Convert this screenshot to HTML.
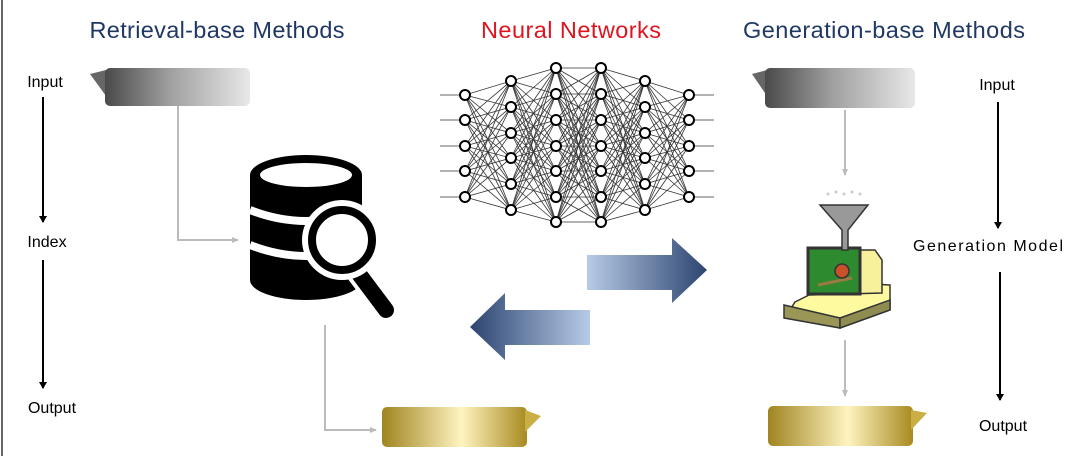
<!DOCTYPE html>
<html><head><meta charset="utf-8"><style>
body{margin:0;background:#fff;width:1080px;height:456px;overflow:hidden;font-family:"Liberation Sans",sans-serif;}
</style></head><body>
<svg id="s" width="1080" height="456" viewBox="0 0 1080 456" xmlns="http://www.w3.org/2000/svg">
<defs>
<linearGradient id="gray" x1="0" x2="1"><stop offset="0" stop-color="#4a4a4a"/><stop offset="0.45" stop-color="#a0a0a0"/><stop offset="1" stop-color="#e8e8e8"/></linearGradient>
<linearGradient id="gold" x1="0" x2="1"><stop offset="0" stop-color="#a08420"/><stop offset="0.55" stop-color="#fff4c0"/><stop offset="1" stop-color="#a88a20"/></linearGradient>
<linearGradient id="ar" x1="0" x2="1"><stop offset="0" stop-color="#b7cbe6"/><stop offset="1" stop-color="#2c4470"/></linearGradient>
<linearGradient id="al" x1="1" x2="0"><stop offset="0" stop-color="#b7cbe6"/><stop offset="1" stop-color="#2c4470"/></linearGradient>
<marker id="ah" markerWidth="8" markerHeight="8" refX="6" refY="4" orient="auto" markerUnits="userSpaceOnUse"><path d="M0,0 L7,4 L0,8 z" fill="#000"/></marker>
<marker id="ag" markerWidth="8" markerHeight="8" refX="6" refY="4" orient="auto" markerUnits="userSpaceOnUse"><path d="M0,1 L7,4 L0,7 z" fill="#bbb"/></marker>
</defs>
<line x1="2" y1="0" x2="2" y2="456" stroke="#666" stroke-width="2"/>
<g font-size="23.5" text-anchor="middle">
<text x="217" y="38" fill="#1f3864" textLength="255">Retrieval-base Methods</text>
<text x="571" y="38" fill="#e0141e" textLength="180">Neural Networks</text>
<text x="884" y="38" fill="#1f3864" textLength="282">Generation-base Methods</text>
</g>
<g font-size="16" fill="#000">
<text x="45" y="87" text-anchor="middle">Input</text>
<text x="47" y="247" text-anchor="middle">Index</text>
<text x="52" y="413" text-anchor="middle">Output</text>
<text x="997" y="90" text-anchor="middle">Input</text>
<text x="988" y="251" text-anchor="middle" textLength="150">Generation Model</text>
<text x="1003" y="431" text-anchor="middle">Output</text>
</g>
<g stroke="#000" stroke-width="2">
<line x1="43" y1="97" x2="43" y2="222" marker-end="url(#ah)"/>
<line x1="43" y1="260" x2="43" y2="388" marker-end="url(#ah)"/>
<line x1="998" y1="102" x2="998" y2="228" marker-end="url(#ah)"/>
<line x1="1000" y1="272" x2="1000" y2="400" marker-end="url(#ah)"/>
</g>
<path d="M90,74 L106,70 L106,96 z" fill="#666"/>
<rect x="105" y="68" width="145" height="38" rx="5" fill="url(#gray)"/>
<path d="M752,74 L767,70 L767,96 z" fill="#666"/>
<rect x="765" y="68" width="150" height="40" rx="5" fill="url(#gray)"/>
<rect x="382" y="407" width="145" height="40" rx="5" fill="url(#gold)"/>
<path d="M525,410 L541,416 L525,432 z" fill="#c9ad45"/>
<rect x="768" y="406" width="145" height="40" rx="5" fill="url(#gold)"/>
<path d="M911,410 L927,413 L911,430 z" fill="#c9ad45"/>
<g stroke="#bbb" stroke-width="2" fill="none">
<polyline points="178,106 178,240 238,240" marker-end="url(#ag)"/>
<polyline points="325,325 325,430 376,430" marker-end="url(#ag)"/>
<line x1="845" y1="110" x2="845" y2="175" marker-end="url(#ag)"/>
<line x1="845" y1="340" x2="845" y2="396" marker-end="url(#ag)"/>
</g>
<path d="M587,255 L672,255 L672,238 L707,270 L672,303 L672,290 L587,290 z" fill="url(#ar)"/>
<path d="M590,310 L505,310 L505,293 L470,327 L505,360 L505,345 L590,345 z" fill="url(#al)"/>
<g>
<path d="M250,175 A56,20 0 0 1 362,175 L362,280 A56,20 0 0 1 250,280 z" fill="#000"/>
<ellipse cx="306" cy="175" rx="46" ry="12" fill="#fff"/>
<path d="M250,210 Q306,232 362,210" stroke="#fff" stroke-width="8" fill="none"/>
<path d="M250,245 Q306,267 362,245" stroke="#fff" stroke-width="8" fill="none"/>
<line x1="350" y1="262" x2="388" y2="312" stroke="#fff" stroke-width="24" stroke-linecap="round"/>
<line x1="350" y1="262" x2="386" y2="310" stroke="#000" stroke-width="16" stroke-linecap="round"/>
<circle cx="342" cy="240" r="40" fill="#fff"/>
<circle cx="342" cy="240" r="30" fill="#fff" stroke="#000" stroke-width="8"/>
</g>
<g stroke="#333" stroke-width="1.5">
<path d="M795,302 L835,282 L890,285 L890,310 L840,328 L785,318 z" fill="#fdfaa0"/>
<path d="M784,305 L840,318 L840,328 L784,318 z" fill="#9a9658"/>
<path d="M840,318 L890,300 L890,310 L840,328 z" fill="#8e8c50"/>
<path d="M810,250 L875,250 L882,260 L882,293 L810,295 z" fill="#f6f19a"/>
<rect x="808" y="248" width="52" height="46" fill="#2e8a2e" stroke="#333" stroke-width="3"/>
<path d="M818,285 L852,278" stroke="#9a7a40" stroke-width="3"/>
<circle cx="842" cy="271" r="7" fill="#c8502a"/>
<path d="M820,205 L868,205 L848,230 L848,250 L842,250 L842,230 z" fill="#999"/>
</g>
<g fill="#ccc"><circle cx="828" cy="194" r="1.5"/><circle cx="836" cy="192" r="1.5"/><circle cx="844" cy="194" r="1.5"/><circle cx="852" cy="192" r="1.5"/><circle cx="860" cy="194" r="1.5"/></g>
<g id="nn"></g>
</svg>
<script>
var L=[[465,[95,120,146,171,197]],[511,[81,107,133,158,184,210]],[556,[68,94,120,146,171,197,222]],[601,[68,94,120,146,171,197,222]],[645,[81,107,133,158,184,210]],[689,[95,120,146,171,197]]];
var h='';
for(var i=0;i<L.length-1;i++){var a=L[i],b=L[i+1];a[1].forEach(function(y1){b[1].forEach(function(y2){h+='<line x1="'+a[0]+'" y1="'+y1+'" x2="'+b[0]+'" y2="'+y2+'" stroke="#333" stroke-width="0.8"/>';});});}
L[0][1].forEach(function(y){h+='<line x1="440" y1="'+y+'" x2="465" y2="'+y+'" stroke="#333" stroke-width="0.8"/>';});
L[5][1].forEach(function(y){h+='<line x1="689" y1="'+y+'" x2="714" y2="'+y+'" stroke="#333" stroke-width="0.8"/>';});
L.forEach(function(l){l[1].forEach(function(y){h+='<circle cx="'+l[0]+'" cy="'+y+'" r="5" fill="#fff" stroke="#000" stroke-width="2"/>';});});
document.getElementById('nn').innerHTML=h;
</script>
</body></html>
